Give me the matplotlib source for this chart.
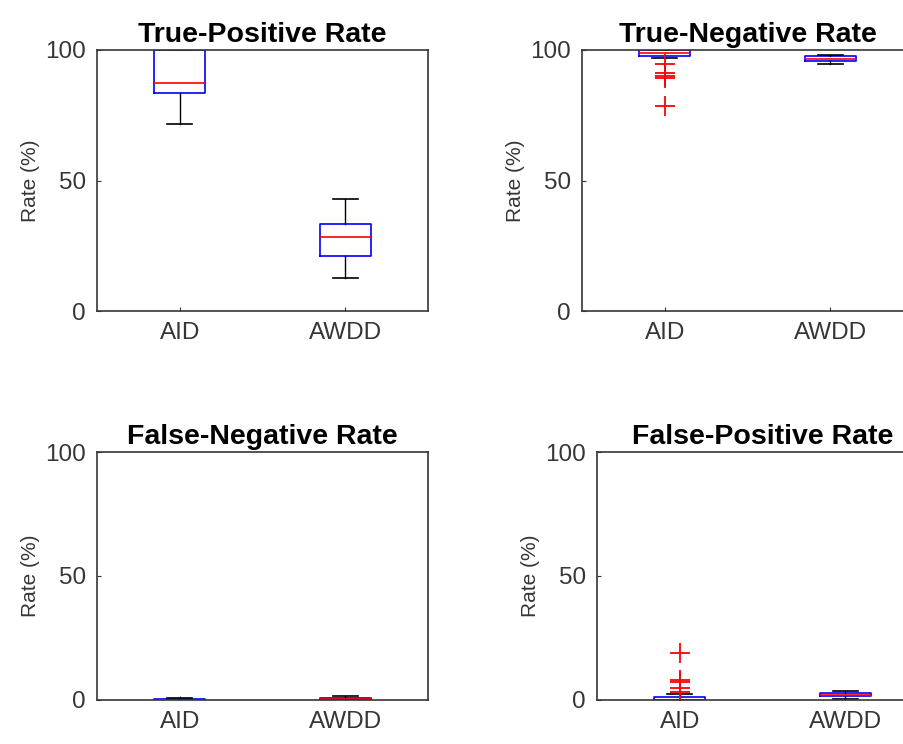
import matplotlib.pyplot as plt

plt.rcParams['font.family'] = ['Liberation Sans', 'DejaVu Sans']

# groups on the x axis
groups = ['AID', 'AWDD']
titles = ['True-Positive Rate', 'True-Negative Rate',
          'False-Negative Rate', 'False-Positive Rate']

# box statistics per panel, one value per group: (AID, AWDD)
whislo = [[71.5, 12.5], [96.8, 94.5], [0.0, 0.0], [0.0, 0.5]]
q1 = [[83.5, 21.2], [97.8, 95.6], [0.0, 0.2], [0.0, 1.5]]
med = [[87.5, 28.5], [99.0, 96.6], [0.0, 0.4], [0.0, 2.0]]
q3 = [[100.0, 33.2], [100.0, 97.6], [0.3, 0.7], [1.3, 3.0]]
whishi = [[100.0, 42.9], [100.0, 98.2], [0.7, 1.6], [2.5, 3.8]]
fliers = [[[], []],
          [[94.5, 91.0, 90.0, 89.3, 78.7], []],
          [[], []],
          [[19.0, 8.0, 7.3, 5.0, 3.4], []]]

# axes rectangles in pixels: left, top, right, bottom
W, H = 904, 744
rects = [(97, 50, 428, 311), (582, 50, 913, 311),
         (97, 452, 428, 700), (597, 452, 928, 700)]

fig = plt.figure(figsize=(W / 100, H / 100), dpi=100)
grey = '#363636'

for k in range(4):
    l, t, r, b = rects[k]
    ax = fig.add_axes([l / W, 1 - b / H, (r - l) / W, (b - t) / H])
    stats = []
    for g in range(2):
        stats.append(dict(whislo=whislo[k][g], q1=q1[k][g], med=med[k][g],
                          q3=q3[k][g], whishi=whishi[k][g],
                          fliers=fliers[k][g], label=groups[g]))
    ax.bxp(stats, positions=[1, 2], widths=0.31, capwidths=0.15,
           boxprops=dict(color='#0000ff', lw=1.2),
           medianprops=dict(color='#ff0000', lw=1.2),
           whiskerprops=dict(color='black', lw=1.0),
           capprops=dict(color='black', lw=1.2),
           flierprops=dict(marker='+', markeredgecolor='#ff0000',
                           markersize=14, markeredgewidth=1.3, linestyle='none'))
    ax.set_xlim(0.5, 2.5)
    ax.set_ylim(0, 100)
    ax.set_yticks([0, 50, 100])
    ax.set_xticks([1, 2])
    ax.set_xticklabels(groups)
    ax.tick_params(direction='in', length=3, colors=grey, labelsize=17.5,
                   pad=8)
    for s in ax.spines.values():
        s.set_color(grey)
        s.set_linewidth(1.2)
    ax.set_title(titles[k], fontsize=20.5, fontweight='bold', pad=6)
    ax.set_ylabel('Rate (%)', fontsize=15, color=grey, labelpad=4)

fig.savefig('out.png', dpi=100)
